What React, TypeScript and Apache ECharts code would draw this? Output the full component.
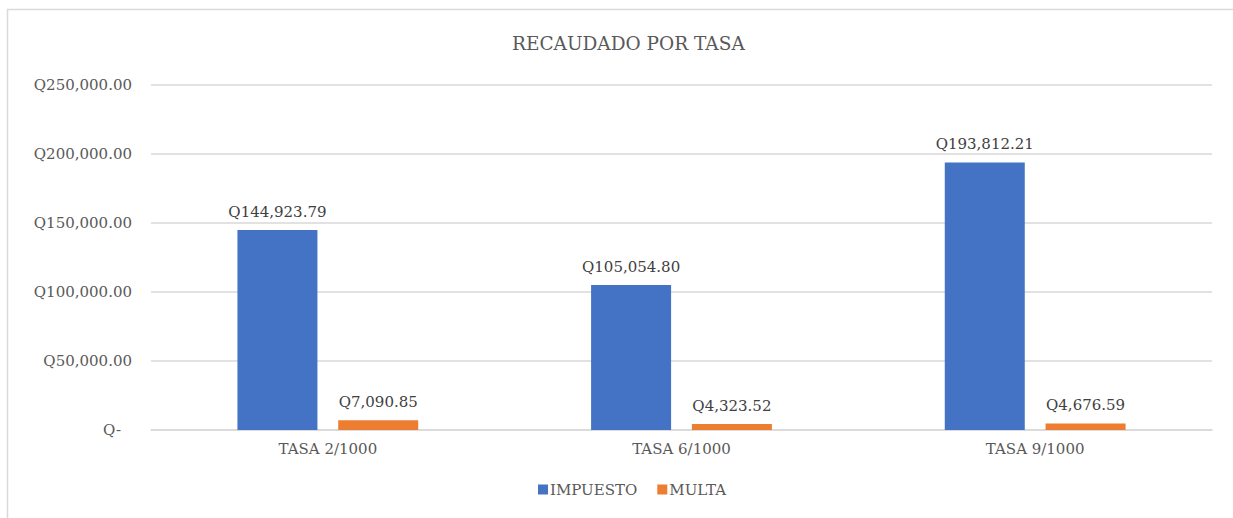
import React, { useEffect, useRef } from "react";
import * as echarts from "echarts";

const categories = ["TASA 2/1000", "TASA 6/1000", "TASA 9/1000"];
const impuesto = [144923.79, 105054.8, 193812.21];
const multa = [7090.85, 4323.52, 4676.59];
const seriesNames = ["IMPUESTO", "MULTA"];
const titleText = "RECAUDADO POR TASA";

const FONT = "DejaVu Serif";
const FS = 15;

function fmtQ(v: number): string {
  return (
    "Q" +
    v.toLocaleString("en-US", { minimumFractionDigits: 2, maximumFractionDigits: 2 })
  );
}

export default function App() {
  const ref = useRef<HTMLDivElement>(null);
  useEffect(() => {
    if (!ref.current) return;
    const chart = echarts.init(ref.current, undefined, { renderer: "svg" });
    const labelStyle = {
      show: true,
      position: "top" as const,
      distance: 11,
      color: "#404040",
      fontFamily: FONT,
      fontSize: FS,
      formatter: (p: any) => fmtQ(p.value),
    };
    chart.setOption({
      animation: false,
      backgroundColor: "#ffffff",
      title: {
        text: titleText,
        left: 507,
        top: 29,
        textStyle: { color: "#595959", fontFamily: FONT, fontSize: 18.5, fontWeight: "normal" },
      },
      graphic: [
        {
          type: "rect",
          shape: { x: 7.5, y: 9.5, width: 1240, height: 520 },
          style: { fill: "none", stroke: "#d9d9d9", lineWidth: 1.5 },
          silent: true,
        },
      ],
      legend: {
        data: seriesNames,
        bottom: 16,
        left: 533,
        itemWidth: 10,
        itemHeight: 10,
        itemGap: 20,
        icon: "rect",
        textStyle: { color: "#595959", fontFamily: FONT, fontSize: FS, padding: [0, 0, 0, -3] },
      },
      grid: { left: 151, right: 21, top: 85, bottom: 88, containLabel: false },
      xAxis: {
        type: "category",
        data: categories,
        axisLine: { lineStyle: { color: "#d9d9d9", width: 1.5 } },
        axisTick: { show: false },
        axisLabel: { color: "#595959", fontFamily: FONT, fontSize: FS, margin: 11 },
      },
      yAxis: {
        type: "value",
        min: 0,
        max: 250000,
        interval: 50000,
        axisLine: { show: false },
        axisTick: { show: false },
        splitLine: { lineStyle: { color: "#d9d9d9", width: 1.5 } },
        axisLabel: {
          color: "#595959",
          fontFamily: FONT,
          fontSize: FS,
          margin: 19,
          formatter: (v: number) => (v === 0 ? "{z|Q-}" : fmtQ(v)),
          rich: {
            z: { color: "#595959", fontFamily: FONT, fontSize: FS, padding: [0, 11, 0, 0] },
          },
        },
      },
      series: [
        {
          name: seriesNames[0],
          type: "bar",
          data: impuesto,
          barWidth: 80,
          barGap: "26%",
          itemStyle: { color: "#4472C4" },
          label: labelStyle,
        },
        {
          name: seriesNames[1],
          type: "bar",
          data: multa,
          barWidth: 80,
          itemStyle: { color: "#ED7D31" },
          label: labelStyle,
        },
      ],
    });
    return () => chart.dispose();
  }, []);
  return (
    <div
      ref={ref}
      style={{ position: "fixed", left: 0, top: 0, width: 1233, height: 518 }}
    />
  );
}
